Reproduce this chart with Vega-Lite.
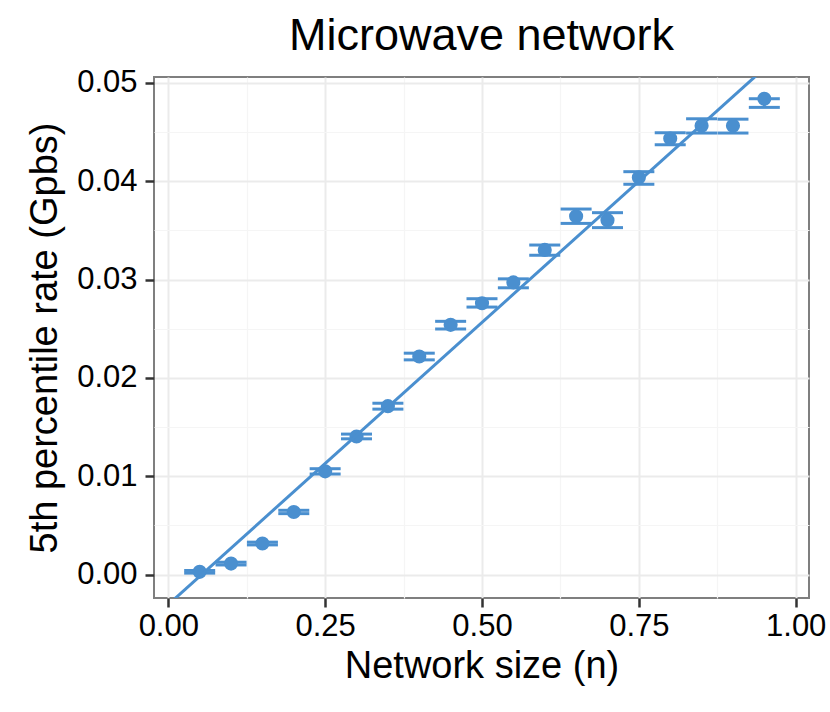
{
  "$schema": "https://vega.github.io/schema/vega-lite/v6.json",
  "width": 655,
  "height": 521,
  "autosize": "none",
  "padding": {"left": 154, "top": 77, "right": 21, "bottom": 114},
  "background": "white",
  "title": {
    "text": "Microwave network",
    "fontSize": 45,
    "font": "Liberation Sans",
    "fontWeight": "normal",
    "color": "black",
    "anchor": "middle",
    "offset": 8
  },
  "data": {
    "values": [
      {"n": 0.05, "rate": 0.00028, "lo": 0.00015, "hi": 0.00042},
      {"n": 0.10, "rate": 0.00112, "lo": 0.00098, "hi": 0.00126},
      {"n": 0.15, "rate": 0.00316, "lo": 0.00302, "hi": 0.00330},
      {"n": 0.20, "rate": 0.00637, "lo": 0.00620, "hi": 0.00654},
      {"n": 0.25, "rate": 0.01050, "lo": 0.01023, "hi": 0.01077},
      {"n": 0.30, "rate": 0.01405, "lo": 0.01381, "hi": 0.01429},
      {"n": 0.35, "rate": 0.01713, "lo": 0.01683, "hi": 0.01743},
      {"n": 0.40, "rate": 0.02218, "lo": 0.02184, "hi": 0.02252},
      {"n": 0.45, "rate": 0.02540, "lo": 0.02498, "hi": 0.02576},
      {"n": 0.50, "rate": 0.02760, "lo": 0.02721, "hi": 0.02806},
      {"n": 0.55, "rate": 0.02972, "lo": 0.02917, "hi": 0.03008},
      {"n": 0.60, "rate": 0.03302, "lo": 0.03248, "hi": 0.03352},
      {"n": 0.65, "rate": 0.03645, "lo": 0.03572, "hi": 0.03718},
      {"n": 0.70, "rate": 0.03605, "lo": 0.03529, "hi": 0.03681},
      {"n": 0.75, "rate": 0.04040, "lo": 0.03970, "hi": 0.04098},
      {"n": 0.80, "rate": 0.04435, "lo": 0.04372, "hi": 0.04495},
      {"n": 0.85, "rate": 0.04565, "lo": 0.04491, "hi": 0.04636},
      {"n": 0.90, "rate": 0.04565, "lo": 0.04491, "hi": 0.04632},
      {"n": 0.95, "rate": 0.04840, "lo": 0.04752, "hi": 0.04840}
    ]
  },
  "encoding": {
    "x": {
      "field": "n",
      "type": "quantitative",
      "title": "Network size (n)",
      "scale": {"domain": [-0.0228, 1.0212], "nice": false, "zero": false},
      "axis": {
        "values": [0, 0.125, 0.25, 0.375, 0.5, 0.625, 0.75, 0.875, 1],
        "labelExpr": "datum.value % 0.25 == 0 ? format(datum.value, '.2f') : ''",
        "labelFlush": false,
        "tickOpacity": {"condition": {"test": "datum.value % 0.25 != 0", "value": 0}, "value": 1},
        "gridColor": {"condition": {"test": "datum.value % 0.25 != 0", "value": "#F5F5F5"}, "value": "#EBEBEB"},
        "gridWidth": {"condition": {"test": "datum.value % 0.25 != 0", "value": 1.2}, "value": 2},
        "labelPadding": 4,
        "titlePadding": 6
      }
    }
  },
  "layer": [
    {
      "mark": {"type": "rule", "color": "#4A8FCF", "strokeWidth": 3},
      "encoding": {
        "y": {
          "field": "lo",
          "type": "quantitative",
          "title": "5th percentile rate (Gpbs)",
          "scale": {"domain": [-0.00238, 0.05061], "nice": false, "zero": false},
          "axis": {
            "values": [0, 0.005, 0.01, 0.015, 0.02, 0.025, 0.03, 0.035, 0.04, 0.045, 0.05],
            "labelExpr": "round(datum.value * 1000) % 10 == 0 ? format(datum.value, '.2f') : ''",
            "labelFlush": false,
            "tickOpacity": {"condition": {"test": "round(datum.value * 1000) % 10 != 0", "value": 0}, "value": 1},
            "gridColor": {"condition": {"test": "round(datum.value * 1000) % 10 != 0", "value": "#F5F5F5"}, "value": "#EBEBEB"},
            "gridWidth": {"condition": {"test": "round(datum.value * 1000) % 10 != 0", "value": 1.2}, "value": 2},
            "labelPadding": 8,
            "titlePadding": 12
          }
        },
        "y2": {"field": "hi"}
      }
    },
    {
      "mark": {"type": "tick", "orient": "horizontal", "color": "#4A8FCF", "size": 31, "thickness": 3, "opacity": 1},
      "encoding": {
        "y": {"field": "lo", "type": "quantitative", "title": "5th percentile rate (Gpbs)", "scale": {"domain": [-0.00238, 0.05061], "nice": false, "zero": false}}
      }
    },
    {
      "mark": {"type": "tick", "orient": "horizontal", "color": "#4A8FCF", "size": 31, "thickness": 3, "opacity": 1},
      "encoding": {
        "y": {"field": "hi", "type": "quantitative", "title": "5th percentile rate (Gpbs)", "scale": {"domain": [-0.00238, 0.05061], "nice": false, "zero": false}}
      }
    },
    {
      "mark": {"type": "circle", "color": "#4A8FCF", "size": 200, "opacity": 1},
      "encoding": {
        "y": {"field": "rate", "type": "quantitative", "title": "5th percentile rate (Gpbs)", "scale": {"domain": [-0.00238, 0.05061], "nice": false, "zero": false}}
      }
    },
    {
      "transform": [{"regression": "rate", "on": "n", "extent": [-0.05, 1.05]}],
      "mark": {"type": "line", "color": "#4A8FCF", "strokeWidth": 3, "clip": true},
      "encoding": {
        "y": {"field": "rate", "type": "quantitative", "title": "5th percentile rate (Gpbs)", "scale": {"domain": [-0.00238, 0.05061], "nice": false, "zero": false}}
      }
    }
  ],
  "config": {
    "font": "Liberation Sans",
    "view": {"stroke": "#7F7F7F", "strokeWidth": 2},
    "axis": {
      "labelFont": "Liberation Sans",
      "labelFontSize": 31,
      "labelColor": "black",
      "titleFont": "Liberation Sans",
      "titleFontSize": 38,
      "titleFontWeight": "normal",
      "titleColor": "black",
      "domain": false,
      "tickColor": "#333333",
      "tickWidth": 2.5,
      "tickSize": 9
    }
  }
}
